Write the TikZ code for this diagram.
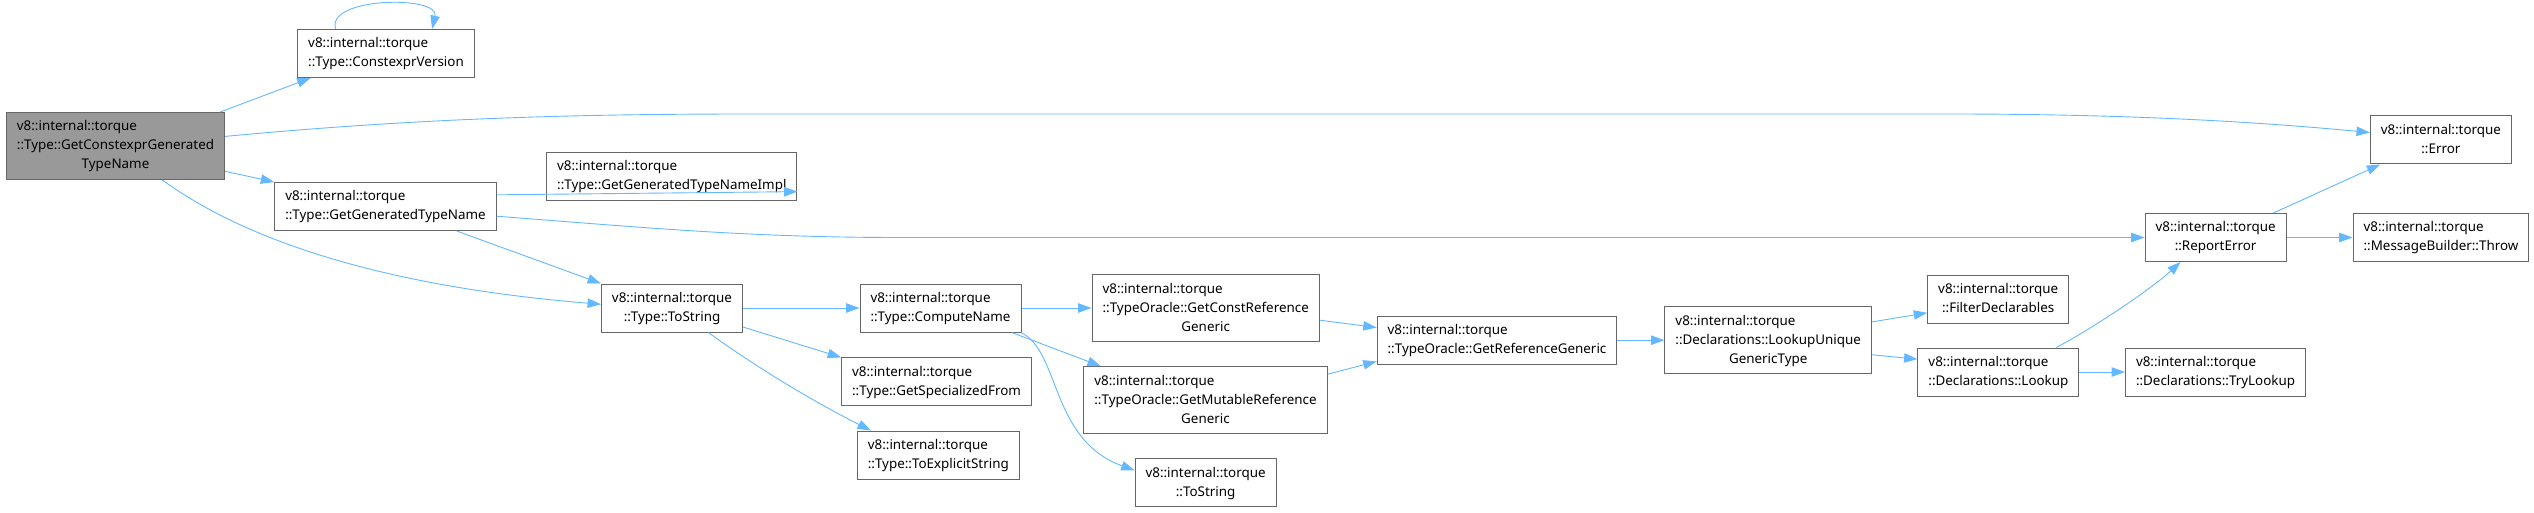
\documentclass[tikz,border=0pt]{standalone}
\usepackage{fontspec}
\setmainfont{Noto Sans}
\usetikzlibrary{arrows.meta}
\definecolor{edgeblue}{HTML}{63B8FF}
\definecolor{framegray}{HTML}{666666}
\definecolor{rootgray}{HTML}{999999}
\newcommand{\twoline}[2]{\begin{tabular}{@{}l@{}}#1\\\multicolumn{1}{@{}c@{}}{#2}\end{tabular}}
\newcommand{\threeline}[3]{\begin{tabular}{@{}l@{}}#1\\#2\\\multicolumn{1}{@{}c@{}}{#3}\end{tabular}}

\begin{document}
\begin{tikzpicture}[x=1pt,y=-1pt,
    box/.style={rectangle, draw=framegray, line width=1pt, fill=white, inner xsep=10.5pt, inner ysep=5pt, font=\fontsize{13.4}{19}\selectfont},
    root/.style={box, fill=rootgray},
    arrow/.style={-{Triangle[length=13.4pt,width=9.4pt]}, line width=0.9pt, edgeblue}
  ]
    \useasboundingbox (0,0) rectangle (2534,513);

    \node[root] (main) at (115.5,146) {\threeline{v8::internal::torque}{::Type::GetConstexprGenerated}{TypeName}};
    \node[box] (cver) at (386,53.5) {\twoline{v8::internal::torque}{::Type::ConstexprVersion}};
    \node[box] (ggtn) at (385.5,206.5) {\twoline{v8::internal::torque}{::Type::GetGeneratedTypeName}};
    \node[box] (impl) at (671.8,176.2) {\twoline{v8::internal::torque}{::Type::GetGeneratedTypeNameImpl}};
    \node[box] (tstr) at (672,308) {\twoline{v8::internal::torque}{::Type::ToString}};
    \node[box] (cname) at (940.5,308) {\twoline{v8::internal::torque}{::Type::ComputeName}};
    \node[box] (spec) at (936.5,381.9) {\twoline{v8::internal::torque}{::Type::GetSpecializedFrom}};
    \node[box] (expl) at (938.3,455) {\twoline{v8::internal::torque}{::Type::ToExplicitString}};
    \node[box] (constref) at (1205.7,308.2) {\threeline{v8::internal::torque}{::TypeOracle::GetConstReference}{Generic}};
    \node[box] (mutref) at (1205.5,400.2) {\threeline{v8::internal::torque}{::TypeOracle::GetMutableReference}{Generic}};
    \node[box] (tstr2) at (1205.6,482.8) {\twoline{v8::internal::torque}{::ToString}};
    \node[box] (refgen) at (1497,340.2) {\twoline{v8::internal::torque}{::TypeOracle::GetReferenceGeneric}};
    \node[box] (lookupu) at (1768.2,340.2) {\threeline{v8::internal::torque}{::Declarations::LookupUnique}{GenericType}};
    \node[box] (filter) at (1998.2,299) {\twoline{v8::internal::torque}{::FilterDeclarables}};
    \node[box] (lookup) at (1998.4,372) {\twoline{v8::internal::torque}{::Declarations::Lookup}};
    \node[box] (trylookup) at (2215.5,372) {\twoline{v8::internal::torque}{::Declarations::TryLookup}};
    \node[box] (reperr) at (2215.6,237.5) {\twoline{v8::internal::torque}{::ReportError}};
    \node[box] (err) at (2440.9,140) {\twoline{v8::internal::torque}{::Error}};
    \node[box] (throw) at (2441,237.5) {\twoline{v8::internal::torque}{::MessageBuilder::Throw}};

    % calls out of the root
    \draw[arrow] (main.18) -- (cver.198);
    \draw[arrow] (cver.154) .. controls (325,-3) and (440,-5) .. (cver.28);
    \draw[arrow] (main.5) .. controls (400,120) and (550,114) .. (750,114) -- (1950,114) .. controls (2150,114) and (2280,124) .. (err.174);
    \draw[arrow] (main.-13) -- (ggtn.north west);
    \draw[arrow] (main.-36) .. controls (215,218) and (330,282) .. (tstr.177);

    \draw[arrow] (ggtn.6) -- (impl.-7);
    \draw[arrow] (ggtn.-5) .. controls (650,228) and (750,237.5) .. (900,237.5) -- (reperr.west);
    \draw[arrow] (ggtn.-19) -- (tstr.north west);

    \draw[arrow] (tstr) -- (cname);
    \draw[arrow] (tstr.-15) -- (spec.north west);
    \draw[arrow] (tstr.-34) .. controls (760,370) and (820,405) .. (expl.160);

    \draw[arrow] (cname.east) -- (constref.west |- cname.east);
    \draw[arrow] (cname.-19) -- (mutref.162);
    \draw[arrow] (cname.-17) .. controls (1060,350) and (1050,440) .. (tstr2.170);

    \draw[arrow] (constref.-6) -- (refgen.174);
    \draw[arrow] (mutref.12) -- (refgen.190);
    \draw[arrow] (refgen) -- (lookupu);
    \draw[arrow] (lookupu.10) -- (filter.191);
    \draw[arrow] (lookupu.-8) -- (lookup.171);
    \draw[arrow] (lookup.23) .. controls (2090,330) and (2150,290) .. (reperr.215);
    \draw[arrow] (lookup) -- (trylookup);
    \draw[arrow] (reperr.23) -- (err.202);
    \draw[arrow] (reperr) -- (throw);
  \end{tikzpicture}
\end{document}
